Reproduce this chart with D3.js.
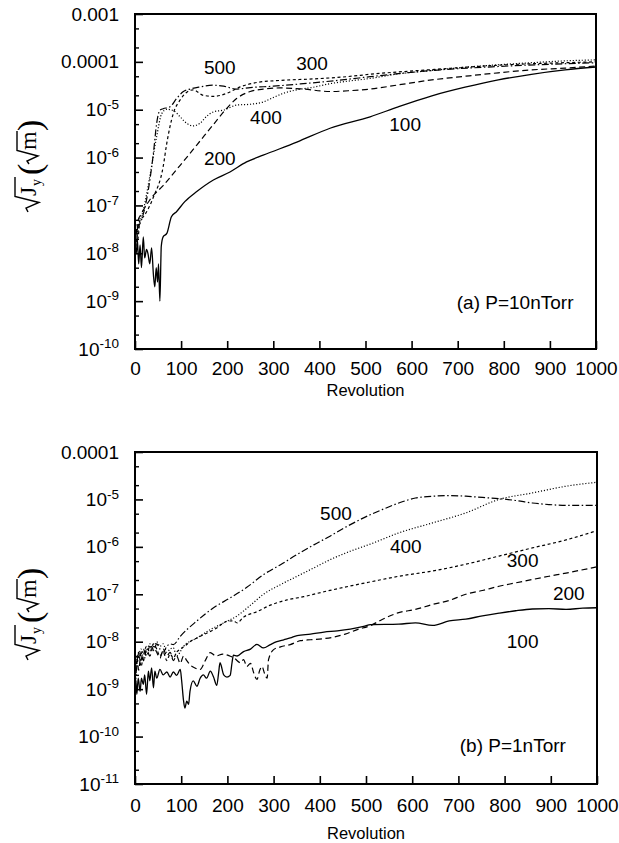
<!DOCTYPE html>
<html><head><meta charset="utf-8">
<script src="https://cdn.jsdelivr.net/npm/d3@7"></script>
<style>body{margin:0;background:#fff}svg{display:block}</style>
</head><body><svg id="c" width="619" height="843"></svg>
<script>
// ---------- data ----------
const xTicks=[0,100,200,300,400,500,600,700,800,900,1000];
const yTicksA=[1e-10,1e-9,1e-8,1e-7,1e-6,1e-5,1e-4,1e-3];
const yTickTextA=["10^-10","10^-9","10^-8","10^-7","10^-6","10^-5","0.0001","0.001"];
const yTicksB=[1e-11,1e-10,1e-9,1e-8,1e-7,1e-6,1e-5,1e-4];
const yTickTextB=["10^-11","10^-10","10^-9","10^-8","10^-7","10^-6","10^-5","0.0001"];
const seriesNames=["100","200","300","400","500"];

// panel (a) P=10nTorr : [revolution, sqrt(Jy)]
const a100=[[0,1.6e-8],[3,1.0e-8],[5,2.0e-8],[8,6e-9],[11,1.5e-8],[14,5e-9],[18,2.2e-8],[21,8e-9],[25,1.2e-8],[28,1.0e-8],[32,6e-9],[36,1.3e-8],[40,3.5e-9],[43,2.0e-9],[46,5e-9],[49,2.5e-9],[51,6e-9],[54,1.0e-9],[57,1.4e-8],[61,2.2e-8],[69,2.6e-8],[79,5.8e-8],[90,7.4e-8],[108,1.2e-7],[134,1.95e-7],[170,3.4e-7],[206,5e-7],[242,8.1e-7],[278,1.12e-6],[351,2.1e-6],[423,4.1e-6],[510,7.1e-6],[571,1.15e-5],[644,1.95e-5],[716,2.95e-5],[788,4.2e-5],[860,5.5e-5],[933,6.8e-5],[1000,7.8e-5]];
const a200=[[0,2e-8],[2,4e-8],[4,2.5e-8],[7,5e-8],[11,6e-8],[18,8e-8],[32,1.3e-7],[61,2.6e-7],[98,6.9e-7],[134,1.83e-6],[170,4.9e-6],[199,1.07e-5],[221,1.73e-5],[250,2.4e-5],[278,2.7e-5],[315,2.85e-5],[365,2.7e-5],[423,2.4e-5],[466,2.5e-5],[510,2.7e-5],[571,3.3e-5],[644,4.2e-5],[716,5.0e-5],[788,5.9e-5],[860,6.8e-5],[933,7.4e-5],[1000,8.2e-5]];
const a300=[[0,1.5e-8],[3,3e-8],[6,2e-8],[11,5e-8],[18,5.8e-8],[40,1.5e-7],[61,6.4e-7],[69,2e-6],[83,8.3e-6],[98,1.6e-5],[112,2.3e-5],[126,2.6e-5],[148,2.0e-5],[170,1.9e-5],[199,2.2e-5],[228,3e-5],[264,3.7e-5],[315,4.1e-5],[387,4.4e-5],[459,4.9e-5],[510,5.5e-5],[644,6.9e-5],[788,8.5e-5],[1000,1.0e-4]];
const a400=[[0,1.2e-8],[2,2.5e-8],[4,2.2e-8],[8,4e-8],[18,8e-8],[32,4e-7],[47,2.75e-6],[58,8.3e-6],[69,1.02e-5],[83,9.6e-6],[98,7.1e-6],[112,5.2e-6],[126,4.6e-6],[141,5.2e-6],[155,7.2e-6],[170,9e-6],[192,9.8e-6],[221,1.25e-5],[250,1.3e-5],[278,1.45e-5],[300,1.8e-5],[322,2.2e-5],[351,2.6e-5],[387,2.95e-5],[423,3.5e-5],[466,4e-5],[510,4.5e-5],[571,5.6e-5],[644,6.6e-5],[716,7.7e-5],[788,8.7e-5],[860,9.6e-5],[933,1.05e-4],[1000,1.1e-4]];
const a500=[[0,2.5e-8],[3,1.5e-8],[6,3.5e-8],[11,4.2e-8],[25,1.3e-7],[40,1.25e-6],[47,5.2e-6],[54,9.8e-6],[61,1.05e-5],[76,1.15e-5],[90,1.7e-5],[105,2.4e-5],[119,2.7e-5],[141,3.0e-5],[170,3.25e-5],[192,3.1e-5],[221,2.7e-5],[250,2.9e-5],[300,3.1e-5],[365,3.5e-5],[459,4.3e-5],[510,4.9e-5],[644,6.6e-5],[788,8e-5],[1000,9.6e-5]];

// panel (b) P=1nTorr
const b100=[[0,3e-10],[2,1.5e-9],[4,7.8e-10],[7,1.7e-9],[11,9e-10],[14,1.7e-9],[18,1.26e-9],[21,2e-9],[25,7.8e-10],[29,2.4e-9],[32,1.5e-9],[36,2.8e-9],[40,1.07e-9],[43,2.4e-9],[47,1.7e-9],[54,2.6e-9],[61,2e-9],[69,2.3e-9],[76,1.8e-9],[83,2.3e-9],[90,1.95e-9],[98,2.6e-9],[101,1.5e-9],[105,5.8e-10],[108,4e-10],[112,5.6e-10],[116,4.8e-10],[119,9e-10],[126,1.5e-9],[134,1.15e-9],[141,1.7e-9],[148,2e-9],[155,1.7e-9],[163,2.4e-9],[170,1.8e-9],[177,1.2e-9],[181,2.2e-9],[184,3.6e-9],[192,2e-9],[199,1.8e-9],[206,1.95e-9],[210,3.6e-9],[213,5.2e-9],[221,5e-9],[235,6.2e-9],[250,7e-9],[264,8.8e-9],[278,7.4e-9],[293,8.7e-9],[307,1.0e-8],[322,1.1e-8],[336,1.2e-8],[351,1.35e-8],[380,1.45e-8],[409,1.6e-8],[438,1.7e-8],[466,1.85e-8],[495,2.1e-8],[510,2.3e-8],[571,2.35e-8],[607,2.5e-8],[644,2.2e-8],[680,2.75e-8],[716,3.0e-8],[752,3.5e-8],[788,4.0e-8],[824,4.5e-8],[860,4.9e-8],[896,5.0e-8],[933,4.8e-8],[969,5.1e-8],[1000,5.2e-8]];
const b200=[[0,2e-9],[4,5e-9],[8,2.5e-9],[13,6e-9],[18,4e-9],[25,7e-9],[32,5e-9],[40,8e-9],[47,6e-9],[54,4.5e-9],[61,7e-9],[69,5e-9],[76,6e-9],[83,4e-9],[90,5e-9],[98,3.5e-9],[105,5e-9],[112,4e-9],[120,3.2e-9],[130,2.8e-9],[141,2.6e-9],[152,4e-9],[163,5.9e-9],[175,5e-9],[190,5.5e-9],[205,5e-9],[215,4.5e-9],[228,3.6e-9],[235,4.2e-9],[242,3e-9],[250,3.5e-9],[257,2.2e-9],[264,1.6e-9],[270,2.5e-9],[275,3e-9],[280,2.2e-9],[286,1.7e-9],[289,4.2e-9],[300,6.8e-9],[315,7.8e-9],[336,8.7e-9],[358,1.05e-8],[380,1.1e-8],[405,1.15e-8],[430,1.25e-8],[455,1.45e-8],[481,1.8e-8],[510,2.2e-8],[535,2.95e-8],[571,4.1e-8],[607,4.8e-8],[644,6.1e-8],[680,7.4e-8],[716,1.0e-7],[752,1.2e-7],[788,1.48e-7],[824,1.74e-7],[860,2.05e-7],[896,2.4e-7],[933,2.8e-7],[1000,3.8e-7]];
const b300=[[0,1.5e-9],[4,4e-9],[8,6e-9],[13,3e-9],[18,5e-9],[25,8e-9],[32,6e-9],[40,9e-9],[47,7e-9],[54,5e-9],[61,6e-9],[69,4e-9],[76,5.5e-9],[83,4.5e-9],[90,6e-9],[98,7e-9],[112,8.7e-9],[119,1.0e-8],[134,1.2e-8],[148,1.4e-8],[177,1.95e-8],[199,2.7e-8],[213,2.75e-8],[221,2.5e-8],[235,3.3e-8],[264,4.3e-8],[293,5.9e-8],[329,7.6e-8],[365,8.9e-8],[409,1.13e-7],[452,1.4e-7],[510,1.83e-7],[571,2.4e-7],[644,3.1e-7],[716,4.3e-7],[788,6.4e-7],[860,9.5e-7],[933,1.4e-6],[1000,2.2e-6]];
const b400=[[0,8e-10],[4,3e-9],[8,5e-9],[13,7e-9],[18,4e-9],[25,6e-9],[32,9e-9],[40,7e-9],[47,1.0e-8],[54,8e-9],[61,9e-9],[69,6e-9],[76,7e-9],[83,7.4e-9],[90,5e-9],[105,8e-9],[134,1.2e-8],[163,1.8e-8],[192,2.5e-8],[221,3.5e-8],[250,5.9e-8],[278,1.0e-7],[315,1.6e-7],[351,2.4e-7],[387,3.6e-7],[423,5.4e-7],[466,8.1e-7],[510,1.15e-6],[571,1.97e-6],[644,3.2e-6],[716,5.2e-6],[788,1.0e-5],[860,1.37e-5],[933,1.9e-5],[1000,2.3e-5]];
const b500=[[0,1.2e-9],[4,3e-9],[8,6e-9],[13,4e-9],[18,7e-9],[25,5e-9],[32,8e-9],[40,6.5e-9],[47,9e-9],[54,7e-9],[61,6e-9],[69,8e-9],[76,9e-9],[83,8.7e-9],[98,1.3e-8],[134,2.75e-8],[170,5.2e-8],[206,8.4e-8],[242,1.4e-7],[278,2.6e-7],[315,4.2e-7],[351,6.9e-7],[387,1.1e-6],[423,1.7e-6],[459,2.7e-6],[510,4.8e-6],[535,6.1e-6],[571,8.4e-6],[607,1.07e-5],[644,1.17e-5],[680,1.2e-5],[716,1.17e-5],[752,1.1e-5],[788,1.04e-5],[824,9.5e-6],[860,8.4e-6],[896,7.8e-6],[933,7.5e-6],[1000,7.5e-6]];

// curve-label anchors in data coordinates [rev, value], order 100..500
const labelPosA=[[586,5.04e-6],[184,9.66e-7],[384,9.5e-5],[284,6.95e-6],[184,7.9e-5]];
const labelPosB=[[839,1.05e-8],[939,1.08e-7],[839,5.3e-7],[586,1.05e-6],[435,5.2e-6]];
const panelTitleA="(a) P=10nTorr", panelTitleB="(b) P=1nTorr";
const titlePosA=[698,9.6e-10], titlePosB=[703,6.5e-11];
const xTitle="Revolution";

// ---------- drawing ----------
const svg=d3.select("#c");
svg.append("rect").attr("width",619).attr("height",843).attr("fill","#fff");
const SANS="'Liberation Sans', Arial, Helvetica, sans-serif";
const SERIF="'Liberation Serif','Times New Roman',serif";
const styles={"100":{dash:null,w:1.3},"200":{dash:"6,3.5",w:1.2},"300":{dash:"3,2.6",w:1.2},"400":{dash:"1.1,1.9",w:1.2},"500":{dash:"7,2.5,1.5,2.5",w:1.2}};

function panel(cfg){
  const x=d3.scaleLinear().domain([0,1000]).range([cfg.left,cfg.right]);
  const y=d3.scaleLog().domain([cfg.yTicks[0],cfg.yTicks[cfg.yTicks.length-1]]).range([cfg.bottom,cfg.top]);
  const g=svg.append("g");
  const line=d3.line().x(d=>x(d[0])).y(d=>y(d[1])).curve(d3.curveMonotoneX);
  cfg.series.forEach((s,i)=>{
    const st=styles[seriesNames[i]];
    g.append("path").attr("d",line(s)).attr("fill","none").attr("stroke","#000")
      .attr("stroke-width",st.w).attr("stroke-dasharray",st.dash).attr("stroke-linejoin","round");
  });
  // x axis
  const xa=g.append("g").attr("transform",`translate(0,${cfg.bottom})`)
    .call(d3.axisBottom(x).tickValues(xTicks).tickSize(-8).tickSizeOuter(0).tickPadding(cfg.xPad).tickFormat(d3.format("d")));
  xa.select(".domain").remove();
  xa.selectAll("line").attr("stroke-width",1.6);
  xa.selectAll("text").attr("font-family",SANS).attr("font-size",19).attr("fill","#000");
  // y minor ticks
  const minors=[];
  cfg.yTicks.slice(0,-1).forEach(d=>{minors.push(2*d,5*d);});
  const ym=g.append("g").attr("transform",`translate(${cfg.left},0)`)
    .call(d3.axisLeft(y).tickValues(minors).tickSize(-4).tickSizeOuter(0).tickFormat(""));
  ym.select(".domain").remove();
  ym.selectAll("line").attr("stroke-width",1.4);
  // y major ticks
  const ya=g.append("g").attr("transform",`translate(${cfg.left},0)`)
    .call(d3.axisLeft(y).tickValues(cfg.yTicks).tickSize(-8).tickSizeOuter(0).tickPadding(16).tickFormat(""));
  ya.select(".domain").remove();
  ya.selectAll("line").attr("stroke-width",1.6);
  ya.selectAll(".tick text").each(function(d,i){
    const t=d3.select(this).attr("font-family",SANS).attr("font-size",19).attr("fill","#000");
    const parts=cfg.yText[i].split("^");
    t.text(null);
    t.append("tspan").text(parts[0]);
    if(parts[1]) t.append("tspan").attr("font-size",13.5).attr("dy","-0.55em").text(parts[1]);
  });
  // frame
  g.append("rect").attr("x",cfg.left).attr("y",cfg.top).attr("width",cfg.right-cfg.left).attr("height",cfg.bottom-cfg.top)
    .attr("fill","none").attr("stroke","#000").attr("stroke-width",2);
  // curve labels
  cfg.labels.forEach((p,i)=>{
    g.append("text").attr("x",x(p[0])).attr("y",y(p[1])).attr("dy","0.36em").attr("text-anchor","middle")
      .attr("font-family",SANS).attr("font-size",19).text(seriesNames[i]);
  });
  // panel title
  g.append("text").attr("x",x(cfg.titlePos[0])).attr("y",y(cfg.titlePos[1])).attr("dy","0.36em")
    .attr("font-family",SANS).attr("font-size",19).text(cfg.title);
  // x title
  g.append("text").attr("x",(cfg.left+cfg.right)/2).attr("y",cfg.xTitleY).attr("dy","0.36em").attr("text-anchor","middle")
    .attr("font-family",SANS).attr("font-size",16.5).text(xTitle);
  // y title
  yLabel(36,cfg.yLabelBottom);
}

function yLabel(tx,ty){
  const g=svg.append("g").attr("transform",`translate(${tx},${ty}) rotate(-90)`);
  g.append("path").attr("d","M0,-8 L4,-10 L9.5,3 L15.5,-21 H35").attr("fill","none").attr("stroke","#000").attr("stroke-width",1.4);
  g.append("text").attr("x",16).attr("y",0).attr("font-family",SERIF).attr("font-size",24).text("J");
  g.append("text").attr("x",26).attr("y",5).attr("font-family",SERIF).attr("font-size",14).text("y");
  g.append("text").attr("x",37).attr("y",5).attr("font-family",SERIF).attr("font-size",34).text("(");
  g.append("path").attr("d","M48,-7 L51,-9 L56,2 L61.5,-19 H81").attr("fill","none").attr("stroke","#000").attr("stroke-width",1.4);
  g.append("text").attr("x",62).attr("y",0).attr("font-family",SERIF).attr("font-size",24).text("m");
  g.append("text").attr("x",81).attr("y",5).attr("font-family",SERIF).attr("font-size",34).text(")");
}

panel({left:135,right:596,top:14,bottom:349,yTicks:yTicksA,yText:yTickTextA,xPad:13,
  series:[a100,a200,a300,a400,a500],labels:labelPosA,title:panelTitleA,titlePos:titlePosA,xTitleY:390,yLabelBottom:212});
panel({left:135,right:597,top:452,bottom:784,yTicks:yTicksB,yText:yTickTextB,xPad:15,
  series:[b100,b200,b300,b400,b500],labels:labelPosB,title:panelTitleB,titlePos:titlePosB,xTitleY:833,yLabelBottom:660});
</script></body></html>
